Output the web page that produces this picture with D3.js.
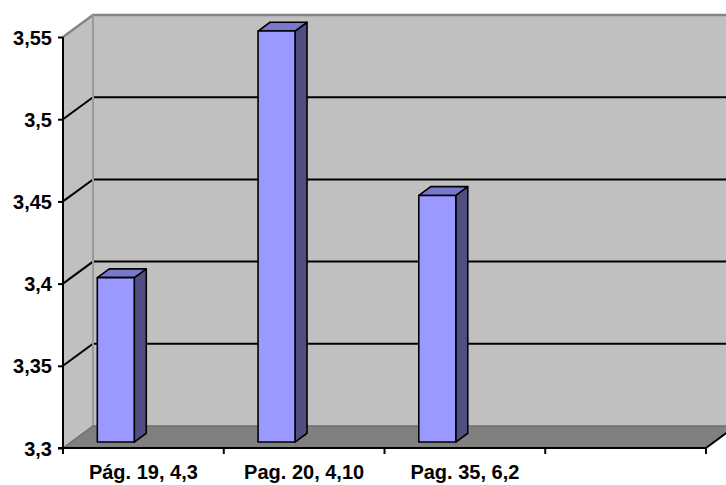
<!DOCTYPE html>
<html>
<head>
<meta charset="utf-8">
<script src="https://cdn.jsdelivr.net/npm/d3@7"></script>
<style>
  html, body { margin: 0; padding: 0; background: #fff; }
  svg { display: block; }
  text { font-family: "Liberation Sans", Arial, sans-serif; font-weight: bold; font-size: 20px; fill: #000; }
</style>
</head>
<body>
<svg id="chart" width="726" height="485"></svg>
<script>
// Categories along the floor (the fourth slot is left empty)
const categories = ["Pág. 19, 4,3", "Pag. 20, 4,10", "Pag. 35, 6,2", ""];
// Column heights
const values = [3.4, 3.55, 3.45];
// Value-axis ticks
const yTicks = [3.3, 3.35, 3.4, 3.45, 3.5, 3.55];

(function () {
  const W = 726, H = 485;
  const svg = d3.select("#chart");

  // Front plane of the plot box
  const pLeft = 63, pRight = 706, pBottom = 448, pTop = 37;
  // Perspective depth vector (front plane -> back wall)
  const depth = { x: 30, y: -22 };
  // Columns sit partway into the depth
  const barFront = 0.27, barDepth = 0.4;

  const x = d3.scaleBand().domain(categories).range([pLeft, pRight]).padding(0);
  const y = d3.scaleLinear().domain([yTicks[0], yTicks[yTicks.length - 1]]).range([pBottom, pTop]);

  const comma = d3.formatLocale({ decimal: ",", thousands: ".", grouping: [3], currency: ["", ""] });
  const fmt = comma.format(".2~f");

  const line = d3.line();
  const wallFill = "#c0c0c0", edge = "#858585";

  // Back wall
  const bx0 = pLeft + depth.x, by0 = pTop + depth.y, by1 = pBottom + depth.y;
  svg.append("rect").attr("x", bx0).attr("y", by0).attr("width", W - bx0 + 40).attr("height", by1 - by0)
    .attr("fill", wallFill);

  // Side wall
  svg.append("path")
    .attr("d", line([[pLeft, pTop], [pLeft + depth.x, pTop + depth.y], [pLeft + depth.x, pBottom + depth.y], [pLeft, pBottom]]) + "Z")
    .attr("fill", wallFill);

  // Floor
  svg.append("path")
    .attr("d", line([[pLeft, pBottom], [pRight, pBottom], [pRight + depth.x, pBottom + depth.y], [pLeft + depth.x, pBottom + depth.y]]) + "Z")
    .attr("fill", "#808080");

  // Gridlines: on the back wall and across the side wall
  const inner = yTicks.slice(1, -1);
  svg.append("g").selectAll("path").data(inner).join("path")
    .attr("d", v => line([[pLeft, y(v)], [pLeft + depth.x, y(v) + depth.y], [W + 40, y(v) + depth.y]]))
    .attr("fill", "none").attr("stroke", "#000").attr("stroke-width", 2);

  // Wall edges
  svg.append("path")
    .attr("d", line([[pLeft, pTop], [pLeft + depth.x, pTop + depth.y], [W + 40, pTop + depth.y]]))
    .attr("fill", "none").attr("stroke", edge).attr("stroke-width", 2.5);
  svg.append("path")
    .attr("d", line([[pLeft + depth.x, pTop + depth.y], [pLeft + depth.x, pBottom + depth.y]]))
    .attr("fill", "none").attr("stroke", "#9a9a9a").attr("stroke-width", 2);
  svg.append("path")
    .attr("d", line([[pLeft, pBottom], [pLeft + depth.x, pBottom + depth.y], [W + 40, pBottom + depth.y]]))
    .attr("fill", "none").attr("stroke", "#6e6e6e").attr("stroke-width", 1.5);
  svg.append("path")
    .attr("d", line([[pRight, pBottom], [pRight + depth.x, pBottom + depth.y]]))
    .attr("fill", "none").attr("stroke", "#000").attr("stroke-width", 2);

  // Columns
  const bw = x.bandwidth();
  const fx = depth.x * barFront, fy = depth.y * barFront;
  const dx = depth.x * barDepth, dy = depth.y * barDepth;
  const bars = svg.append("g").selectAll("g").data(values).join("g");
  bars.each(function (v, i) {
    const g = d3.select(this);
    const x0 = x(categories[i]) + bw * 0.163 + fx;
    const x1 = x0 + bw * 0.23;
    const yt = y(v) + fy, yb = y(yTicks[0]) + fy;
    const poly = (pts, fill) => g.append("path").attr("d", line(pts) + "Z").attr("fill", fill)
      .attr("stroke", "#000").attr("stroke-width", 1.6).attr("stroke-linejoin", "round");
    poly([[x1, yt], [x1 + dx, yt + dy], [x1 + dx, yb + dy], [x1, yb]], "#4f4f82");
    poly([[x0, yt], [x0 + dx, yt + dy], [x1 + dx, yt + dy], [x1, yt]], "#7878cc");
    poly([[x0, yt], [x1, yt], [x1, yb], [x0, yb]], "#9999ff");
  });

  // Value axis
  const yAxis = svg.append("g").attr("transform", `translate(${pLeft},0)`)
    .call(d3.axisLeft(y).tickValues(yTicks).tickFormat(fmt).tickSize(5).tickPadding(6).tickSizeOuter(0));
  yAxis.select(".domain").remove();
  yAxis.selectAll(".tick line").attr("stroke", "#000").attr("stroke-width", 2);
  yAxis.selectAll("text").attr("font-size", 20).attr("font-family", null).attr("dy", "0.35em");

  // Category axis: boundary ticks plus centred labels
  const xAxis = svg.append("g").attr("transform", `translate(0,${pBottom})`)
    .call(d3.axisBottom(x).tickSize(0).tickPadding(17).tickSizeOuter(0));
  xAxis.select(".domain").remove();
  xAxis.selectAll("text").attr("font-size", 20).attr("font-family", null);

  const bounds = categories.map(c => x(c)).concat([x(categories[categories.length - 1]) + bw]);
  svg.append("g").selectAll("line").data(bounds).join("line")
    .attr("x1", d => d).attr("x2", d => d).attr("y1", pBottom).attr("y2", pBottom + 6)
    .attr("stroke", "#000").attr("stroke-width", 2);

  // Axis lines
  svg.append("path").attr("d", line([[pLeft - 5, pBottom], [pRight, pBottom]]))
    .attr("stroke", "#000").attr("stroke-width", 2);
  svg.append("path").attr("d", line([[pLeft, pTop], [pLeft, pBottom + 6]]))
    .attr("stroke", "#000").attr("stroke-width", 2);
})();
</script>
</body>
</html>
